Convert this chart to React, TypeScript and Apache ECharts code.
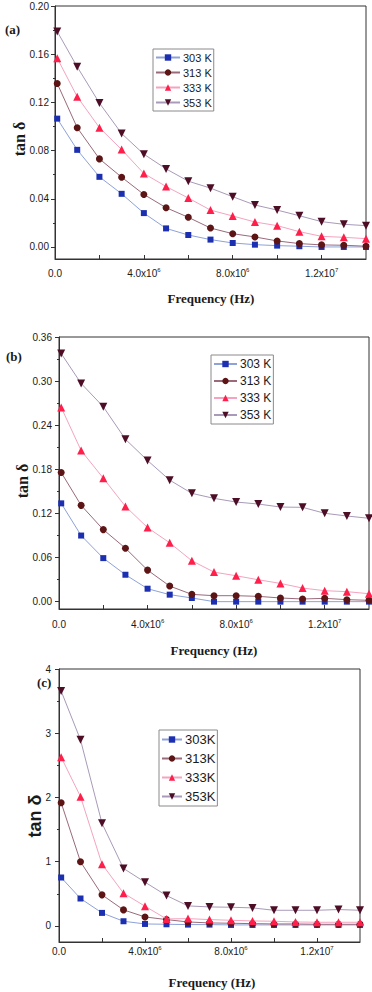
import React, { useEffect, useRef } from "react";
import * as echarts from "echarts";

// ---------- data ----------
const freq = [1e5, 1e6, 2e6, 3e6, 4e6, 5e6, 6e6, 7e6, 8e6, 9e6, 1e7, 1.1e7, 1.2e7, 1.3e7, 1.4e7];

const a303 = [0.1065, 0.0806, 0.0582, 0.0441, 0.0281, 0.0154, 0.0099, 0.0061, 0.0033, 0.0019, 0.0011, 0.0006, 0.0, 0.0, 0.0];
const a313 = [0.1357, 0.099, 0.0731, 0.0579, 0.0436, 0.0326, 0.0246, 0.0157, 0.011, 0.0083, 0.005, 0.0028, 0.0017, 0.0014, 0.0006];
const a333 = [0.1567, 0.1247, 0.099, 0.0808, 0.061, 0.0502, 0.0406, 0.0306, 0.0257, 0.0207, 0.0177, 0.0127, 0.0088, 0.008, 0.0069];
const a353 = [0.1788, 0.1495, 0.1194, 0.0941, 0.077, 0.0648, 0.0546, 0.0488, 0.0417, 0.0348, 0.0306, 0.0259, 0.021, 0.0188, 0.0177];

const b303 = [0.1337, 0.0899, 0.0592, 0.0366, 0.0176, 0.0095, 0.005, 0.0, 0.0, 0.0, 0.0, 0.0, 0.0, 0.0, 0.0];
const b313 = [0.1757, 0.131, 0.098, 0.0727, 0.0429, 0.0212, 0.0099, 0.0081, 0.0081, 0.0072, 0.005, 0.0036, 0.0045, 0.0027, 0.0018];
const b333 = [0.2642, 0.2055, 0.168, 0.1296, 0.1007, 0.08, 0.0556, 0.0402, 0.0352, 0.0298, 0.0248, 0.0185, 0.0149, 0.0136, 0.0108];
const b353 = [0.3374, 0.2968, 0.2651, 0.2209, 0.192, 0.1653, 0.1473, 0.1405, 0.1355, 0.1328, 0.1287, 0.1283, 0.1202, 0.1165, 0.1134];

const c303 = [0.754, 0.427, 0.203, 0.073, 0.031, 0.026, 0.021, 0.021, 0.016, 0.016, 0.016, 0.016, 0.016, 0.016, 0.016];
const c313 = [1.919, 0.999, 0.484, 0.25, 0.14, 0.099, 0.062, 0.047, 0.042, 0.036, 0.031, 0.031, 0.026, 0.026, 0.026];
const c333 = [2.627, 2.013, 0.962, 0.51, 0.307, 0.109, 0.114, 0.099, 0.088, 0.078, 0.073, 0.062, 0.057, 0.057, 0.057];
const c353 = [3.657, 2.897, 1.597, 0.895, 0.681, 0.473, 0.312, 0.296, 0.291, 0.281, 0.244, 0.244, 0.244, 0.255, 0.244];

const namesAB = ["303 K", "313 K", "333 K", "353 K"];
const namesC = ["303K", "313K", "333K", "353K"];

const xLabelTicks = [0, 4e6, 8e6, 1.2e7];
const xAllTicks = [0, 2e6, 4e6, 6e6, 8e6, 1e7, 1.2e7];

const aYTicks = [0, 0.04, 0.08, 0.12, 0.16, 0.2];
const aYMinor = [0.02, 0.06, 0.1, 0.14, 0.18];
const bYTicks = [0, 0.06, 0.12, 0.18, 0.24, 0.3, 0.36];
const bYMinor = [0.03, 0.09, 0.15, 0.21, 0.27, 0.33];
const cYTicks = [0, 1, 2, 3, 4];
const cYMinor = [0.5, 1.5, 2.5, 3.5];

// ---------- styles ----------
const SANS = "Liberation Sans, Arial, sans-serif";
const SERIF = "Liberation Serif, Times New Roman, serif";
const INK = "#1a1a1a";
const AXIS = "#333";

const seriesStyles = [
  { marker: "#1c2fb0", line: "#8ea2d8", symbol: "rect", size: 6 },
  { marker: "#5c1414", line: "#9a6a7a", symbol: "circle", size: 7 },
  { marker: "#ff1f4a", line: "#f5a3bf", symbol: "triangle", size: 8 },
  { marker: "#4d0d25", line: "#a89ab8", symbol: "path://M0,0 L10,0 L5,9 Z", size: 8 },
];

const panels = [
  {
    key: "a",
    grid: { left: 55, top: 6, width: 311, height: 253 },
    yMin: -0.01, yMax: 0.2, yTicks: aYTicks, yMinor: aYMinor, yDec: 2, yMargin: 6, xMargin: 8,
    data: [a303, a313, a333, a353], names: namesAB,
    legend: { left: 153, top: 49, fontSize: 11, itemGap: 4, itemWidth: 24 },
  },
  {
    key: "b",
    grid: { left: 59, top: 337, width: 310, height: 272 },
    yMin: -0.01, yMax: 0.36, yTicks: bYTicks, yMinor: bYMinor, yDec: 2, yMargin: 7, xMargin: 9,
    data: [b303, b313, b333, b353], names: namesAB,
    legend: { left: 211, top: 355, fontSize: 12, itemGap: 5, itemWidth: 23 },
  },
  {
    key: "c",
    grid: { left: 59, top: 669, width: 301, height: 273 },
    yMin: -0.25, yMax: 4, yTicks: cYTicks, yMinor: cYMinor, yDec: 0, yMargin: 8, xMargin: 3,
    data: [c303, c313, c333, c353], names: namesC,
    legend: { left: 159, top: 730, fontSize: 13, itemGap: 6, itemWidth: 20 },
  },
];

const xFormatter = (v: number) => {
  if (v === 0) return "{m|0.0}";
  const e = Math.floor(Math.log10(v) + 1e-9);
  const m = v / Math.pow(10, e);
  return `{m|${m.toFixed(1)}x10}{s|${e}}`;
};

function buildOption() {
  const grid: any[] = [];
  const xAxis: any[] = [];
  const yAxis: any[] = [];
  const series: any[] = [];
  const legend: any[] = [];

  panels.forEach((p, i) => {
    grid.push({
      ...p.grid,
      show: true,
      borderColor: AXIS,
      borderWidth: 1,
      backgroundColor: "transparent",
    });
    xAxis.push({
      type: "value",
      gridIndex: i,
      min: 0,
      max: 1.4e7,
      splitLine: { show: false },
      axisLine: { show: true, onZero: false, lineStyle: { color: AXIS, width: 1 } },
      axisTick: { show: true, inside: true, length: 4, customValues: xAllTicks, lineStyle: { color: AXIS } },
      axisLabel: {
        customValues: xLabelTicks,
        margin: p.xMargin,
        formatter: xFormatter,
        color: INK,
        fontFamily: SANS,
        fontSize: 10,
        lineHeight: 12,
        rich: {
          m: { fontSize: 10, fontFamily: SANS, color: INK, lineHeight: 12 },
          s: { fontSize: 6, fontFamily: SANS, color: INK, lineHeight: 12, verticalAlign: "top" },
        },
      },
    });
    // main y axis
    yAxis.push({
      type: "value",
      gridIndex: i,
      min: p.yMin,
      max: p.yMax,
      splitLine: { show: false },
      axisLine: { show: true, onZero: false, lineStyle: { color: AXIS, width: 1 } },
      axisTick: { show: true, inside: false, length: 4, customValues: p.yTicks, lineStyle: { color: AXIS } },
      axisLabel: {
        customValues: p.yTicks,
        margin: p.yMargin,
        color: INK,
        fontFamily: SANS,
        fontSize: 10,
        formatter: (v: number) => v.toFixed(p.yDec),
      },
    });
    // minor tick axis
    yAxis.push({
      type: "value",
      gridIndex: i,
      position: "left",
      min: p.yMin,
      max: p.yMax,
      splitLine: { show: false },
      axisLine: { show: false },
      axisTick: { show: true, inside: false, length: 2, customValues: p.yMinor, lineStyle: { color: AXIS } },
      axisLabel: { show: false },
    });

    const legendNames: string[] = [];
    p.data.forEach((vals, k) => {
      const st = seriesStyles[k];
      const nm = `${p.key}|${p.names[k]}`;
      legendNames.push(nm);
      series.push({
        type: "line",
        name: nm,
        xAxisIndex: i,
        yAxisIndex: i * 2,
        data: freq.map((f, j) => [f, vals[j]]),
        symbol: st.symbol,
        symbolSize: st.size,
        showAllSymbol: true,
        clip: false,
        lineStyle: { color: st.line, width: 1 },
        itemStyle: { color: st.marker, borderWidth: 0 },
        z: 2 + k,
      });
    });

    legend.push({
      data: legendNames,
      orient: "vertical",
      left: p.legend.left,
      top: p.legend.top,
      itemWidth: p.legend.itemWidth,
      itemHeight: 8,
      itemGap: p.legend.itemGap,
      padding: [3, 2, 3, 2],
      borderColor: "#8a8a8a",
      borderWidth: 1,
      backgroundColor: "#fff",
      selectedMode: false,
      formatter: (n: string) => n.split("|")[1],
      textStyle: { fontFamily: SANS, fontSize: p.legend.fontSize, color: INK, padding: [0, 0, 0, -2] },
    });
  });

  const titleStyle = (size: number, family: string) => ({
    fontFamily: family,
    fontWeight: "bold",
    fontSize: size,
    fill: INK,
  });

  const graphic: any[] = [
    // panel letters
    { type: "text", left: 5, top: 23, style: { text: "(a)", ...titleStyle(13, SERIF) } },
    { type: "text", left: 6, top: 350, style: { text: "(b)", ...titleStyle(13, SERIF) } },
    { type: "text", left: 37, top: 676, style: { text: "(c)", ...titleStyle(13, SERIF) } },
    // y titles
    {
      type: "text", x: 19, y: 139, rotation: Math.PI / 2,
      style: { text: "tan δ", align: "center", verticalAlign: "middle", ...titleStyle(16, SERIF) },
    },
    {
      type: "text", x: 22, y: 481, rotation: Math.PI / 2,
      style: { text: "tan δ", align: "center", verticalAlign: "middle", ...titleStyle(16, SERIF) },
    },
    {
      type: "text", x: 35, y: 816, rotation: Math.PI / 2,
      style: { text: "tan δ", align: "center", verticalAlign: "middle", ...titleStyle(18, SANS) },
    },
    // x titles
    {
      type: "text", x: 211, y: 298,
      style: { text: "Frequency (Hz)", align: "center", verticalAlign: "middle", ...titleStyle(13, SERIF) },
    },
    {
      type: "text", x: 214, y: 650,
      style: { text: "Frequency (Hz)", align: "center", verticalAlign: "middle", ...titleStyle(13, SERIF) },
    },
    {
      type: "text", x: 212, y: 982,
      style: { text: "Frequency (Hz)", align: "center", verticalAlign: "middle", ...titleStyle(13, SERIF) },
    },
  ];

  return {
    animation: false,
    backgroundColor: "#fff",
    grid,
    xAxis,
    yAxis,
    series,
    legend,
    graphic,
  };
}

export default function App() {
  const ref = useRef<HTMLDivElement>(null);
  useEffect(() => {
    document.body.style.margin = "0";
    if (!ref.current) return;
    const chart = echarts.init(ref.current, undefined, { renderer: "svg" });
    chart.setOption(buildOption() as any);
    return () => chart.dispose();
  }, []);
  return <div ref={ref} style={{ width: 372, height: 992 }} />;
}
